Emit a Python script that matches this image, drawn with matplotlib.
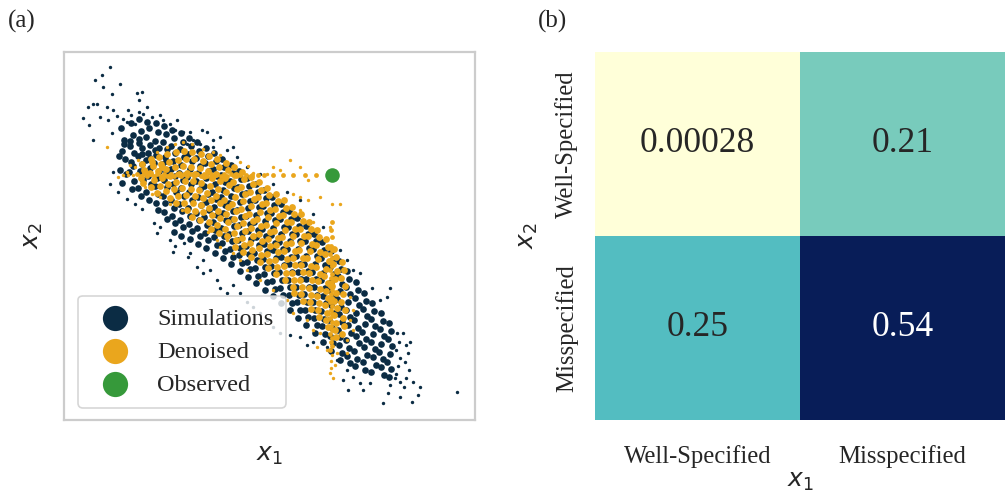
import numpy as np
import matplotlib
matplotlib.use("Agg")
import matplotlib.pyplot as plt
import seaborn as sns

# simulated samples, dense part of the cloud (arbitrary units)
sim_core = [
    (183,262),(191,298),(187,331),(195,356),(179,388),(198,402),(186,427),(193,312),(176,346),
    (212,249),(218,283),(209,317),(221,339),(214,364),(207,395),(223,421),(216,447),(211,301),(219,376),
    (236,236),(243,271),(238,296),(247,322),(233,348),(245,371),(239,393),(248,419),(234,444),(242,468),(237,309),(246,341),
    (262,244),(268,262),(259,289),(271,313),(264,337),(257,359),(269,384),(263,408),(272,431),(258,456),(266,479),(270,352),
    (287,247),(294,276),(285,301),(296,322),(289,343),(283,368),(297,391),(291,414),(286,438),(295,462),(288,487),(293,509),(284,329),
    (312,256),(318,281),(309,304),(321,327),(314,349),(307,372),(319,396),(313,419),(322,441),(308,466),(316,489),(311,514),(320,537),(317,361),
    (337,268),(343,293),(334,317),(346,338),(339,362),(332,385),(344,407),(338,431),(347,454),(333,478),(341,502),(336,526),(345,548),(342,574),
    (362,279),(368,304),(359,327),(371,351),(364,373),(357,397),(369,420),(363,444),(372,467),(358,491),(366,513),(361,538),(370,561),(364,586),
    (387,292),(393,316),(384,340),(396,362),(389,385),(382,409),(394,432),(388,456),(397,479),(383,503),(391,526),(386,550),(395,573),(389,598),
    (412,306),(418,331),(409,354),(421,376),(414,399),(407,423),(419,446),(413,470),(422,493),(408,517),(416,540),(411,563),(420,587),(414,611),
    (437,322),(443,346),(434,369),(446,391),(439,414),(432,438),(444,461),(438,484),(447,508),(433,531),(441,555),(436,578),(445,601),(439,625),
    (462,338),(468,362),(459,385),(471,408),(464,431),(457,454),(469,477),(463,500),(472,523),(458,546),(466,569),(461,592),(470,615),(464,639),
    (487,356),(493,380),(484,403),(496,425),(489,448),(482,471),(494,494),(488,517),(497,540),(483,563),(491,586),(486,609),(495,632),(489,655),
    (512,374),(518,398),(509,421),(521,443),(514,466),(507,489),(519,512),(513,535),(522,558),(508,581),(516,604),(511,627),(520,650),(514,673),
    (537,393),(543,417),(534,440),(546,462),(539,485),(532,508),(544,531),(538,554),(547,577),(533,600),(541,623),(536,646),(545,669),(539,692),
    (562,412),(568,436),(559,459),(571,481),(564,504),(557,527),(569,550),(563,573),(572,596),(558,619),(566,642),(561,665),(570,688),(564,711),
    (587,431),(593,455),(584,478),(596,500),(589,523),(582,546),(594,569),(588,592),(597,615),(583,638),(591,661),(586,684),(595,707),(589,730),
    (612,450),(618,474),(609,497),(621,519),(614,542),(607,565),(619,588),(613,611),(622,634),(608,657),(616,680),(611,703),(620,726),(614,749),
    (637,470),(643,494),(634,517),(646,539),(639,562),(632,585),(644,608),(638,631),(647,654),(633,677),(641,700),(636,723),(645,746),(639,769),
    (662,490),(668,514),(659,537),(671,559),(664,582),(657,605),(669,628),(663,651),(672,674),(658,697),(666,720),(661,743),(670,766),(664,789),
    (687,512),(693,536),(684,559),(696,581),(689,604),(682,627),(694,650),(688,673),(697,696),(683,719),(691,742),(686,765),(695,788),(689,811),
    (712,534),(718,558),(709,581),(721,603),(714,626),(707,649),(719,672),(713,695),(722,718),(708,741),(716,764),(711,787),(720,810),(714,833),
    (737,556),(743,580),(734,603),(746,625),(739,648),(732,671),(744,694),(738,717),(747,740),(733,763),(741,786),(736,809),(745,832),(739,855),
    (762,580),(768,604),(759,627),(771,649),(764,672),(757,695),(769,718),(763,741),(772,764),(758,787),(766,810),(761,833),(770,856),(764,879),
    (787,606),(793,630),(784,653),(796,675),(789,698),(782,721),(794,744),(788,767),(797,790),(783,813),(791,836),(786,859),(795,882),(789,905),
    (812,634),(818,658),(809,681),(821,703),(814,726),(807,749),(819,772),(813,795),(822,818),(808,841),(816,864),(811,887),(820,910),(814,933),
    (837,662),(843,686),(834,709),(846,731),(839,754),(832,777),(844,800),(838,823),(847,846),(833,869),(841,892),(836,915),(845,938),(839,961),
    (862,694),(868,718),(859,741),(871,763),(864,786),(857,809),(869,832),(863,855),(872,878),(858,901),(866,924),(861,947),(870,970),
    (887,726),(893,750),(884,773),(896,795),(889,818),(882,841),(894,864),(888,887),(897,910),(883,933),(891,956),(886,979),
    (912,760),(918,784),(909,807),(921,829),(914,852),(907,875),(919,898),(913,921),(922,944),(908,967),(916,990),
    (937,790),(943,814),(934,837),(946,859),(939,882),(932,905),(944,928),(938,951),(947,974),(933,997),
    (962,820),(968,844),(959,867),(971,889),(964,912),(957,935),(969,958),(963,981),(972,1004),
    (987,850),(993,874),(984,897),(996,919),(989,942),(982,965),(994,988),(988,1011),
]

# simulated samples, sparse tails and outliers
sim_edge = [
    (150,80),(125,105),(105,120),(180,132),(130,140),(155,160),(230,158),(245,155),(100,190),(112,190),
    (85,200),(238,180),(70,232),(88,255),(98,300),(155,278),(120,230),(145,240),(172,228),(188,236),
    (205,208),(212,224),(236,214),(262,200),(140,200),(160,210),(200,245),(225,250),(250,222),(275,230),
    (300,225),(310,240),(330,250),(350,240),(345,270),(370,275),(390,275),(425,268),(380,310),(400,300),
    (420,310),(160,395),(150,430),(175,455),(200,475),(225,490),(245,505),(282,548),(300,560),(330,600),
    (290,578),(345,618),(373,610),(390,640),(340,635),(385,650),(430,660),(410,680),(450,690),(430,700),
    (470,720),(480,745),(500,760),(520,735),(540,760),(560,785),(580,800),(600,820),(620,840),(640,860),
    (660,880),(690,885),(720,890),(740,915),(760,905),(800,920),(830,960),(860,990),(880,1010),(900,1030),
    (865,1050),(910,1050),(930,1030),(850,1020),(990,1035),(1005,1015),(985,1060),(1075,1065),(1060,1025),
    (1080,1040),(1020,1070),(1055,1085),(1190,1055),(970,1090),(1012,880),(1018,906),(1009,931),(1021,955),
    (1014,978),(1007,1002),(1019,1026),(1037,915),(1043,940),(1034,965),(1046,990),(1039,1015),(1031,1040),
    (990,745),(935,745),(980,770),(960,780),(900,700),(880,690),(860,660),(840,630),(1030,880),(1050,905),
    (480,290),(440,275),(460,320),(500,330),(530,350),(560,380),(600,400),(640,430),(680,455),(720,480),
    (760,520),(790,560),(460,300),(520,320),
]

# denoised samples, dense part
den_core = [
    (247,371),(253,389),(244,412),(256,396),(250,428),
    (272,356),(278,378),(269,399),(281,418),(274,441),(277,365),
    (297,349),(303,371),(294,392),(306,414),(299,436),(292,457),(305,380),
    (322,342),(328,364),(319,386),(331,408),(324,430),(317,452),(329,473),
    (347,336),(353,358),(344,380),(356,402),(349,424),(342,446),(354,468),(348,489),
    (372,333),(378,355),(369,377),(381,399),(374,421),(367,443),(379,465),(373,487),(380,508),
    (397,335),(403,357),(394,379),(406,401),(399,423),(392,445),(404,467),(398,489),(405,511),(396,531),
    (422,340),(428,362),(419,384),(431,406),(424,428),(417,450),(429,472),(423,494),(430,516),(421,538),
    (447,348),(453,370),(444,392),(456,414),(449,436),(442,458),(454,480),(448,502),(455,524),(446,546),(452,566),
    (472,357),(478,379),(469,401),(481,423),(474,445),(467,467),(479,489),(473,511),(480,533),(471,555),(477,577),
    (497,368),(503,390),(494,412),(506,434),(499,456),(492,478),(504,500),(498,522),(505,544),(496,566),(502,588),
    (522,381),(528,403),(519,425),(531,447),(524,469),(517,491),(529,513),(523,535),(530,557),(521,579),(527,601),(524,620),
    (547,395),(553,417),(544,439),(556,461),(549,483),(542,505),(554,527),(548,549),(555,571),(546,593),(552,615),(549,636),
    (572,410),(578,432),(569,454),(581,476),(574,498),(567,520),(579,542),(573,564),(580,586),(571,608),(577,630),(574,651),
    (597,426),(603,448),(594,470),(606,492),(599,514),(592,536),(604,558),(598,580),(605,602),(596,624),(602,646),(599,667),
    (622,443),(628,465),(619,487),(631,509),(624,531),(617,553),(629,575),(623,597),(630,619),(621,641),(627,663),(624,684),
    (647,461),(653,483),(644,505),(656,527),(649,549),(642,571),(654,593),(648,615),(655,637),(646,659),(652,681),(649,702),
    (672,480),(678,502),(669,524),(681,546),(674,568),(667,590),(679,612),(673,634),(680,656),(671,678),(677,700),(674,721),
    (697,500),(703,522),(694,544),(706,566),(699,588),(692,610),(704,632),(698,654),(705,676),(696,698),(702,720),(699,741),(703,760),
    (722,521),(728,543),(719,565),(731,587),(724,609),(717,631),(729,653),(723,675),(730,697),(721,719),(727,741),(724,762),(728,782),
    (747,545),(753,567),(744,589),(756,611),(749,633),(742,655),(754,677),(748,699),(755,721),(746,743),(752,765),(749,786),(753,806),
    (772,570),(778,592),(769,614),(781,636),(774,658),(767,680),(779,702),(773,724),(780,746),(771,768),(777,790),(774,811),(778,832),
    (797,598),(803,620),(794,642),(806,664),(799,686),(792,708),(804,730),(798,752),(805,774),(796,796),(802,818),(799,839),(803,860),
    (822,628),(828,650),(819,672),(831,694),(824,716),(817,738),(829,760),(823,782),(830,804),(821,826),(827,848),(824,869),(828,890),
    (847,665),(853,690),(844,714),(856,738),(849,762),(842,786),(854,810),(848,834),(852,858),(846,882),
]

# denoised samples collapsed onto the two streaks towards the observation
den_streak = [
    (232,401),(242,406),(252,402),(262,407),(272,401),(282,406),(292,402),(302,407),(312,401),(322,406),
    (332,402),(342,407),(352,401),(362,406),(372,402),(382,407),(392,401),(402,406),(412,402),(422,407),
    (432,401),(442,406),(452,402),(462,407),(472,401),(482,406),(492,402),(502,407),(512,401),(522,406),
    (540,404),(558,403),(575,405),(593,404),(611,403),(640,405),(668,404),(700,405),(735,404),(768,405),
    (812,617),(817,629),(811,641),(816,653),(812,665),(817,677),(811,689),(816,701),(812,713),(817,725),
    (811,737),(816,749),(812,761),(817,773),(811,785),(816,797),(812,809),(817,821),(811,833),(816,845),
    (812,857),(817,869),(811,881),(816,893),(812,905),(817,917),(811,929),(815,545),(813,570),(816,590),
]

# denoised stray points
den_edge = [
    (175,410),(190,405),(205,405),(218,403),(815,490),(840,492),(815,945),(813,962),(820,1015),(812,985),
    (140,320),(200,395),(225,380),(210,375),(235,360),(290,335),(320,320),(345,310),(370,305),(395,310),
    (430,325),(460,335),(480,345),(540,365),(565,378),(640,380),(660,390),(690,360),(720,380),(700,460),
    (720,470),(745,480),(745,420),(780,470),(720,510),(760,545),(810,560),(870,770),(880,810),(870,840),
    (880,870),(860,900),(860,940),(830,940),(800,930),(770,920),(810,1000),(825,975),(255,440),(275,460),
    (300,470),(330,490),(365,510),(390,530),(445,575),(470,600),(480,620),(500,600),(520,640),(540,660),
    (560,690),(600,720),(640,750),(680,780),(700,820),(740,840),(760,870),(780,880),(620,400),(580,399),
]

obs_x1 = [815]
obs_x2 = [745]

sim_core_x1 = [p[0] for p in sim_core]
sim_core_x2 = [1150 - p[1] for p in sim_core]
sim_edge_x1 = [p[0] for p in sim_edge]
sim_edge_x2 = [1150 - p[1] for p in sim_edge]
den_core_x1 = [p[0] for p in den_core]
den_core_x2 = [1150 - p[1] for p in den_core]
den_streak_x1 = [p[0] for p in den_streak]
den_streak_x2 = [1150 - p[1] for p in den_streak]
den_edge_x1 = [p[0] for p in den_edge]
den_edge_x2 = [1150 - p[1] for p in den_edge]

# heatmap values
cases = ['Well-Specified', 'Misspecified']
scores = np.array([[0.00028, 0.21],
                   [0.25, 0.54]])

sns.set_style('whitegrid')
plt.rcParams['font.family'] = ['Liberation Serif', 'DejaVu Serif']
plt.rcParams['mathtext.fontset'] = 'dejavusans'

sim_col = '#0b2c44'
den_col = '#eaa61d'
obs_col = '#36993a'

fig = plt.figure(figsize=(10.05, 5), dpi=100)
ax1 = fig.add_axes([0.0637, 0.16, 0.409, 0.736])
ax2 = fig.add_axes([0.592, 0.16, 0.408, 0.736])

ax1.scatter(sim_edge_x1, sim_edge_x2, s=6, color=sim_col, linewidths=0)
ax1.scatter(sim_core_x1, sim_core_x2, s=23, color=sim_col, linewidths=0, label='Simulations')
ax1.scatter(den_core_x1, den_core_x2, s=24, color=den_col, linewidths=0, label='Denoised')
ax1.scatter(den_streak_x1, den_streak_x2, s=12, color=den_col, linewidths=0)
ax1.scatter(den_edge_x1, den_edge_x2, s=6, color=den_col, linewidths=0)
ax1.scatter(obs_x1, obs_x2, s=110, color=obs_col, linewidths=0, label='Observed')
ax1.set_xlim(12, 1245)
ax1.set_ylim(10, 1115)
ax1.set_xticks([])
ax1.set_yticks([])
for sp in ax1.spines.values():
    sp.set_color('#cccccc')
    sp.set_linewidth(1.6)
ax1.set_xlabel('$x_1$', fontsize=18, color='#262626', labelpad=18)
ax1.set_ylabel('$x_2$', fontsize=18, color='#262626', labelpad=14)
leg = ax1.legend(loc='lower left', fontsize=17.5, handletextpad=0.75,
                 borderpad=0.5, labelspacing=0.45, bbox_to_anchor=(0.005, 0.0))
for h in leg.legend_handles:
    h.set_sizes([330])
leg.get_frame().set_edgecolor('#cccccc')
leg.get_frame().set_linewidth(1.2)

sns.heatmap(scores, ax=ax2, cmap='YlGnBu', annot=True, fmt='.2g', cbar=False,
            annot_kws={'fontsize': 25.5, 'family': ['Liberation Serif']},
            xticklabels=cases, yticklabels=cases)
ax2.tick_params(axis='x', length=0, labelsize=17.8, pad=18)
ax2.tick_params(axis='y', length=0, labelsize=17.8, pad=12)
ax2.set_yticklabels(cases, rotation=90, va='center')
ax2.set_xlabel('$x_1$', fontsize=18, color='#262626', labelpad=2)
ax2.set_ylabel('$x_2$', fontsize=18, color='#262626', labelpad=11)

fig.text(0.008, 0.945, '(a)', fontsize=18, color='#262626')
fig.text(0.535, 0.945, '(b)', fontsize=18, color='#262626')

fig.savefig('out.png', dpi=100)
